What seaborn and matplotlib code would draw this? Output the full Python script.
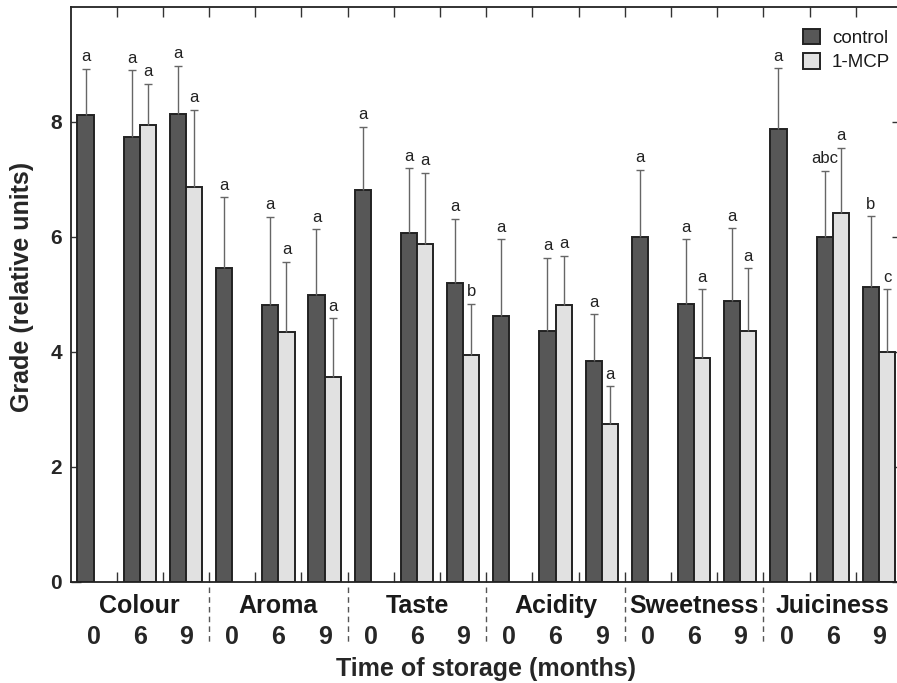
import numpy as np
import pandas as pd
import matplotlib
matplotlib.use("Agg")
import matplotlib.pyplot as plt
import seaborn as sns
from matplotlib.transforms import blended_transform_factory
from matplotlib.ticker import FixedLocator

# ---------------- data ----------------
attributes = ["Colour", "Aroma", "Taste", "Acidity", "Sweetness", "Juiciness"]
times = ["0", "6", "9"]
treatments = ["control", "1-MCP"]

control_mean = [8.12, 7.73, 8.14, 5.46, 4.82, 4.99, 6.81, 6.06, 5.19,
                4.62, 4.37, 3.84, 6.00, 4.84, 4.88, 7.88, 6.00, 5.13]
control_sd = [0.80, 1.17, 0.84, 1.23, 1.53, 1.14, 1.11, 1.13, 1.12,
              1.34, 1.27, 0.81, 1.17, 1.12, 1.27, 1.05, 1.15, 1.23]
control_letters = ["a", "a", "a", "a", "a", "a", "a", "a", "a",
                   "a", "a", "a", "a", "a", "a", "a", "abc", "b"]

mcp_mean = [np.nan, 7.95, 6.87, np.nan, 4.35, 3.56, np.nan, 5.88, 3.94,
            np.nan, 4.82, 2.75, np.nan, 3.90, 4.37, np.nan, 6.42, 3.99]
mcp_sd = [np.nan, 0.71, 1.34, np.nan, 1.22, 1.02, np.nan, 1.24, 0.90,
          np.nan, 0.85, 0.65, np.nan, 1.19, 1.08, np.nan, 1.13, 1.10]
mcp_letters = ["", "a", "a", "", "a", "a", "", "a", "b",
               "", "a", "a", "", "a", "a", "", "a", "c"]

slots = [f"{a} {t}" for a in attributes for t in times]

rows = []
for i, s in enumerate(slots):
    rows.append(dict(slot=s, treatment="control", grade=control_mean[i]))
    if not np.isnan(mcp_mean[i]):
        rows.append(dict(slot=s, treatment="1-MCP", grade=mcp_mean[i]))
df = pd.DataFrame(rows)

sd_map = {"control": control_sd, "1-MCP": mcp_sd}
letter_map = {"control": control_letters, "1-MCP": mcp_letters}

# ---------------- style ----------------
sns.set_style("white")
plt.rcParams["font.family"] = ["Liberation Sans", "DejaVu Sans"]
plt.rcParams["text.color"] = "#1a1a1a"

W, H = 897, 683
fig = plt.figure(figsize=(W / 100, H / 100), dpi=100)
ax_l, ax_r, ax_t, ax_b = 70.5, 902.0, 7.0, 581.7
ax = fig.add_axes([ax_l / W, 1 - ax_b / H, (ax_r - ax_l) / W, (ax_b - ax_t) / H])

palette = {"control": "#575757", "1-MCP": "#e1e1e1"}
sns.barplot(data=df, x="slot", y="grade", hue="treatment", order=slots,
            hue_order=treatments, palette=palette, saturation=1, width=0.7,
            edgecolor="#222222", linewidth=1.4, errorbar=None, ax=ax)

# error bars (upper only) and significance letters
for cont, trt in zip(ax.containers, treatments):
    for bar in cont:
        xc = bar.get_x() + bar.get_width() / 2
        h = bar.get_height()
        if np.isnan(h):
            continue
        idx = int(round(xc))
        sd = sd_map[trt][idx]
        eb = ax.errorbar([xc], [h], yerr=[[0], [sd]], fmt="none", ecolor="#666666",
                         elinewidth=1.0, capsize=3, capthick=1.0, zorder=1)
        eb[1][0].set_visible(False)
        ax.annotate(letter_map[trt][idx], (xc, h + sd), xytext=(0, 5.5),
                    textcoords="offset points", ha="center", va="baseline",
                    fontsize=12, color="#222222")

ax.set_xlim(-0.5, len(slots) - 0.5)
ax.set_ylim(0, 10)
ax.set_yticks([0, 2, 4, 6, 8])

# x ticks: time labels at slot centres, minor ticks at slot boundaries
ax.set_xticks(range(len(slots)))
ax.set_xticklabels(times * len(attributes))
ax.xaxis.set_minor_locator(FixedLocator(np.arange(0.5, len(slots) - 1, 1.0)))
ax.tick_params(axis="x", which="major", length=0, pad=31.2,
               labelsize=18)
ax.tick_params(axis="x", which="minor", direction="in", length=7, width=1,
               top=True, bottom=True, color="#333333")
ax.tick_params(axis="y", which="major", direction="in", length=7, width=1,
               left=True, right=True, pad=6.3, labelsize=15, color="#333333")
for lab in ax.get_xticklabels() + ax.get_yticklabels():
    lab.set_fontweight("bold")

for sp in ax.spines.values():
    sp.set_linewidth(1.3)
    sp.set_color("#222222")

trans = blended_transform_factory(ax.transData, ax.transAxes)
for g, name in enumerate(attributes):
    ax.text(3 * g + 1, -0.0539, name, transform=trans, ha="center",
            va="baseline", fontsize=18, fontweight="bold")
for b in np.arange(2.5, len(slots) - 1, 3):
    ax.plot([b, b], [-0.009, -0.11], transform=trans, ls=(0, (4, 3)),
            color="#555555", lw=1, clip_on=False)

ax.set_xlabel("Time of storage (months)", fontsize=18, fontweight="bold")
ax.xaxis.set_label_coords(0.5, -0.1305)
ax.set_ylabel("Grade (relative units)", fontsize=18, fontweight="bold")
ax.yaxis.set_label_coords(-0.0444, 0.513)

handles, labels = ax.get_legend_handles_labels()
ax.legend(handles, labels, loc="upper left",
          bbox_to_anchor=(802.7 / W, 1 - 28.5 / H), bbox_transform=fig.transFigure,
          frameon=False, fontsize=13.5, handlelength=0.9, handleheight=0.9,
          handletextpad=0.66, labelspacing=0.33, borderpad=0, borderaxespad=0)

fig.savefig("out.png", dpi=100)
